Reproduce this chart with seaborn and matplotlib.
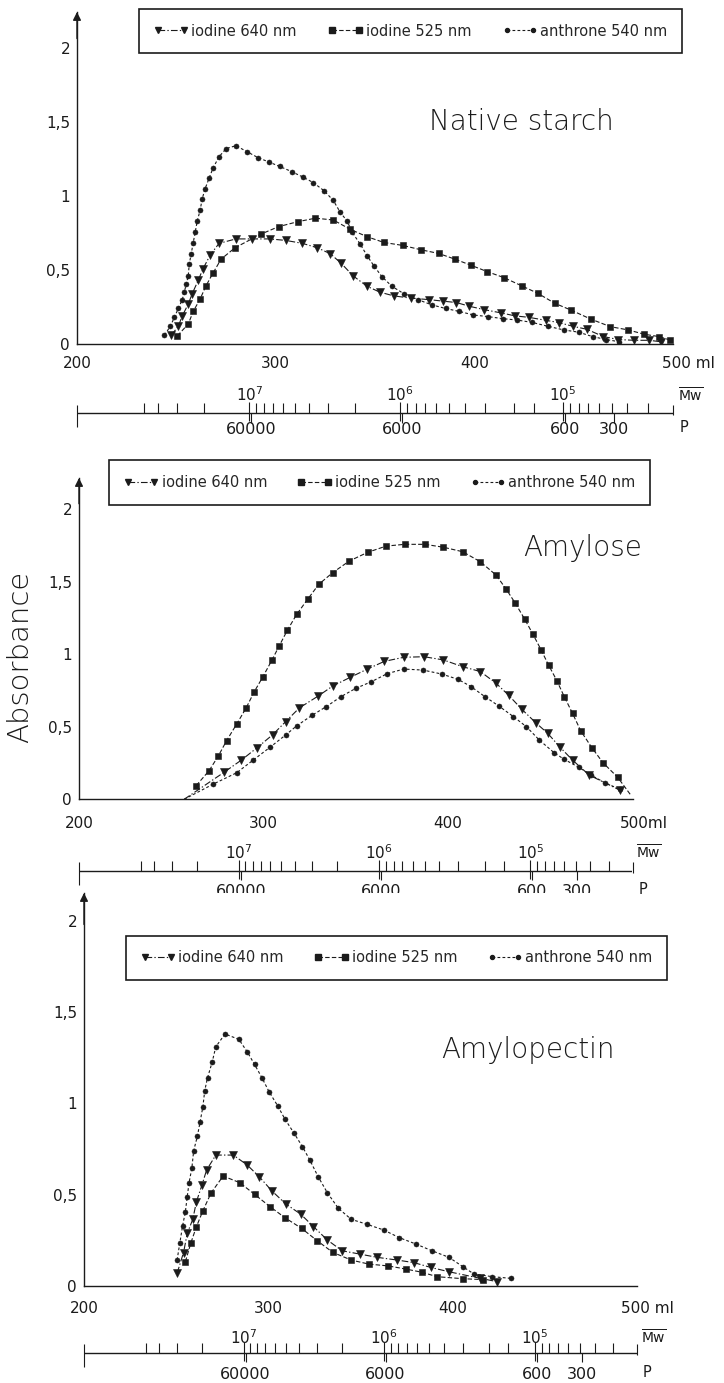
import numpy as np
import matplotlib
matplotlib.use("Agg")
import matplotlib.pyplot as plt
import matplotlib.transforms as mtransforms
from matplotlib.lines import Line2D
import seaborn as sns

# ---------------- Native starch ----------------
ns_i640_ml = [247.5, 251, 253, 256, 258, 261, 263.5, 267, 271.5, 280, 288, 297, 305, 313.5,
              321, 327.5, 333, 339, 346, 352.5, 359.5, 368, 377, 384, 391, 397.5, 405, 413.5,
              420.5, 427.5, 436, 442.5, 449.5, 456.5, 465, 472.5, 480.5, 488, 494]
ns_i640_y = [0.06, 0.12, 0.19, 0.27, 0.34, 0.43, 0.51, 0.60, 0.68, 0.71, 0.71, 0.71, 0.70, 0.68,
             0.65, 0.61, 0.545, 0.46, 0.39, 0.35, 0.325, 0.31, 0.30, 0.29, 0.28, 0.255, 0.232, 0.21,
             0.19, 0.18, 0.16, 0.145, 0.12, 0.10, 0.05, 0.03, 0.025, 0.025, 0.015]
ns_i525_ml = [250.5, 256, 258.5, 262, 265, 268.5, 272.5, 279.5, 292.5, 301.5, 311, 320, 329,
              337.5, 346, 354.5, 364, 373, 382, 390.5, 398.5, 406.5, 415, 424, 432, 440.5,
              448.5, 458.5, 468.5, 477.5, 485.5, 493, 498.5]
ns_i525_y = [0.055, 0.135, 0.22, 0.305, 0.395, 0.48, 0.573, 0.65, 0.742, 0.793, 0.826, 0.85, 0.838,
             0.775, 0.725, 0.686, 0.666, 0.637, 0.612, 0.572, 0.531, 0.489, 0.448, 0.392, 0.342, 0.275,
             0.23, 0.169, 0.117, 0.095, 0.066, 0.05, 0.027]
ns_anth_ml = [244, 247, 249, 251, 253, 254, 255, 256, 256.5, 257.5, 258.5, 259.5, 260.5, 262, 263,
              264.5, 266.5, 268.5, 271.5, 275, 280, 285.5, 291, 296.5, 302, 308, 314, 319, 324.5,
              329, 332.5, 336, 338.5, 342.5, 346, 349.5, 353.5, 358.5, 364.5, 371.5, 378.5, 385.5,
              392.5, 399.5, 407, 414.5, 421.5, 429, 437, 445, 452.5, 459.5, 466.5, 473]
ns_anth_y = [0.06, 0.12, 0.18, 0.24, 0.30, 0.35, 0.405, 0.46, 0.54, 0.61, 0.685, 0.755, 0.83, 0.905,
             0.98, 1.05, 1.12, 1.19, 1.265, 1.32, 1.34, 1.30, 1.26, 1.23, 1.20, 1.165, 1.126, 1.09,
             1.034, 0.97, 0.89, 0.83, 0.755, 0.676, 0.597, 0.527, 0.455, 0.39, 0.34, 0.30, 0.265,
             0.24, 0.22, 0.196, 0.185, 0.171, 0.162, 0.146, 0.12, 0.095, 0.08, 0.05, 0.03, 0.015]

# ---------------- Amylose ----------------
am_i640_ml = [257, 278.5, 288, 296.5, 305, 312, 319.5, 329.5, 337.5, 347, 356, 365.5, 376, 387,
              397.5, 408, 417.5, 426, 433, 440, 447.5, 454, 460.5, 467.5, 476.5, 493]
am_i640_y = [0, 0.185, 0.27, 0.355, 0.445, 0.535, 0.63, 0.71, 0.78, 0.84, 0.895, 0.95, 0.978, 0.982,
             0.96, 0.913, 0.88, 0.80, 0.715, 0.62, 0.528, 0.455, 0.362, 0.27, 0.167, 0.064]
am_i525_ml = [263.5, 270.5, 275.5, 280, 285.5, 290.5, 295, 299.5, 304.5, 308.5, 313, 318, 324, 330,
              337.5, 346.5, 356.5, 366.5, 376.5, 387.5, 397.5, 408, 417.5, 426, 431.5, 436.5, 441.5,
              446, 450.5, 454.5, 459, 463, 467.5, 472, 478, 484, 492, 499]
am_i525_y = [0.094, 0.197, 0.298, 0.404, 0.519, 0.627, 0.741, 0.84, 0.957, 1.056, 1.166, 1.274, 1.379,
             1.481, 1.561, 1.641, 1.701, 1.744, 1.756, 1.756, 1.736, 1.705, 1.636, 1.545, 1.448, 1.35,
             1.242, 1.138, 1.028, 0.925, 0.817, 0.707, 0.592, 0.47, 0.355, 0.252, 0.151, 0.03]
am_anth_ml = [257, 272.5, 285.5, 294.5, 303.5, 312, 318, 326.5, 334, 342, 350, 358.5, 367, 376,
              386.5, 396.5, 405.5, 412.5, 420, 427.5, 435.5, 442.5, 449.5, 457.5, 463, 471, 477.5,
              485, 493]
am_anth_y = [0, 0.103, 0.183, 0.271, 0.358, 0.443, 0.506, 0.58, 0.638, 0.707, 0.764, 0.81, 0.865,
             0.897, 0.89, 0.863, 0.826, 0.776, 0.707, 0.643, 0.569, 0.5, 0.408, 0.321, 0.275, 0.22,
             0.167, 0.114, 0.07]

# ---------------- Amylopectin ----------------
ap_i640_ml = [250.5, 254, 256, 259, 261, 264, 266.5, 271.5, 281, 288.5, 295, 302, 309.5, 317.5,
              324.5, 332, 340, 349.5, 359, 370, 379, 388, 398, 415, 424]
ap_i640_y = [0.07, 0.183, 0.288, 0.365, 0.462, 0.553, 0.635, 0.717, 0.717, 0.663, 0.599, 0.52, 0.449,
             0.394, 0.325, 0.252, 0.193, 0.175, 0.157, 0.142, 0.128, 0.102, 0.078, 0.042, 0.024]
ap_i525_ml = [255, 258, 261, 264.5, 269, 275.5, 284.5, 292.5, 301, 309, 318, 326.5, 335, 345, 354.5,
              365, 374.5, 383.5, 391.5, 405.5, 416.5]
ap_i525_y = [0.133, 0.237, 0.325, 0.412, 0.511, 0.602, 0.566, 0.502, 0.434, 0.374, 0.316, 0.248,
             0.184, 0.142, 0.12, 0.11, 0.093, 0.075, 0.051, 0.04, 0.035]
ap_anth_ml = [250.5, 252, 253.5, 255, 256, 257, 258.5, 259.5, 261.5, 263, 264.5, 265.5, 267, 269.5,
              271.5, 276.5, 284, 288.5, 292.5, 296.5, 300.5, 305, 309, 314, 318.5, 322.5, 327, 332,
              338, 345, 353.5, 362.5, 371, 380, 389, 398, 405.5, 411.5, 421.5, 431.5]
ap_anth_y = [0.142, 0.237, 0.33, 0.407, 0.489, 0.566, 0.645, 0.741, 0.82, 0.9, 0.982, 1.07, 1.14,
             1.225, 1.31, 1.38, 1.351, 1.283, 1.214, 1.141, 1.062, 0.988, 0.914, 0.836, 0.763, 0.69,
             0.599, 0.511, 0.425, 0.365, 0.338, 0.307, 0.265, 0.23, 0.192, 0.157, 0.106, 0.066,
             0.051, 0.042]

SERIES = ["iodine 640 nm", "iodine 525 nm", "anthrone 540 nm"]

# calibration of elution volume against log Mw (lower scale)
cal_log_mw = [8.14, 7.0, 6.0, 5.0, 4.32]
cal_ml = [200.0, 286.7, 362.6, 444.6, 500.0]
mw_major = [1e7, 1e6, 1e5]
mw_minor = [5e7, 4e7, 3e7, 2e7, 9e6, 8e6, 7e6, 6e6, 5e6, 4e6, 3e6, 2e6,
            9e5, 8e5, 7e5, 6e5, 5e5, 4e5, 3e5, 2e5, 1.5e5, 9e4, 8e4, 7e4, 6e4, 5e4, 4e4, 3e4]
p_marks = [60000, 6000, 600, 300]
AGU_MASS = 162  # P = Mw / 162

W, H = 724, 1383
INK = "#1b1b1b"

STYLE = {
    "iodine 640 nm": dict(marker="v", ms=5.5, ls=(0, (6, 2, 1.2, 2))),
    "iodine 525 nm": dict(marker="s", ms=4.8, ls=(0, (4, 2))),
    "anthrone 540 nm": dict(marker="o", ms=3.6, ls=(0, (2.5, 2))),
}

panels = [
    dict(title="Native starch", title_xy=(377, 1.5),
         data=[(ns_i640_ml, ns_i640_y, None), (ns_i525_ml, ns_i525_y, None), (ns_anth_ml, ns_anth_y, None)],
         x0=77, x1=673, zero=344, top=12, unit=148, scale=413, mw_dy=18, p_dy=17,
         legend=(139, 682, 7, 55), xpad=9, ml_label="500 ml", ml_dx=15),
    dict(title="Amylose", title_xy=(441, 1.73),
         data=[(am_i640_ml, am_i640_y, slice(1, None)), (am_i525_ml, am_i525_y, slice(0, -1)),
               (am_anth_ml, am_anth_y, slice(1, None))],
         x0=79, x1=632.5, zero=799.3, top=478, unit=145.2, scale=870.7, mw_dy=18, p_dy=21,
         legend=(109, 650, 460, 505), xpad=12, ml_label="500ml", ml_dx=11),
    dict(title="Amylopectin", title_xy=(394, 1.29),
         data=[(ap_i640_ml, ap_i640_y, None), (ap_i525_ml, ap_i525_y, None), (ap_anth_ml, ap_anth_y, None)],
         x0=84, x1=637, zero=1286, top=893, unit=182.6, scale=1352.7, mw_dy=15, p_dy=22,
         legend=(126, 667, 933, 983), xpad=11, ml_label="500 ml", ml_dx=10),
]


def mw_to_ml(mw):
    lg = np.log10(np.asarray(mw, dtype=float))
    return np.interp(-lg, -np.asarray(cal_log_mw), cal_ml)


def rect(x0, x1, top, bottom):
    return [x0 / W, 1 - bottom / H, (x1 - x0) / W, (bottom - top) / H]


def draw_scale(fig, p):
    # 24 px per unit in y, line at 0
    sc = fig.add_axes(rect(p["x0"], p["x1"], p["scale"] - 24, p["scale"] + 24))
    sc.set_xlim(200, 500)
    sc.set_ylim(-1, 1)
    sc.axis("off")
    sc.axhline(0, color=INK, lw=1.0)
    kw = dict(color=INK, lw=0.8, clip_on=False)
    sc.vlines(mw_to_ml(mw_minor), 0, 0.42, **kw)
    sc.vlines(mw_to_ml(mw_major), -0.35, 0.45, **kw)
    p_pos = mw_to_ml(np.array(p_marks) * AGU_MASS)
    sc.vlines(p_pos, -0.4, 0, **kw)
    sc.vlines(sc.get_xlim(), [-0.6, -0.1], 0.35, **kw)
    y_mw = p["mw_dy"] / 24
    y_p = -p["p_dy"] / 24
    for mw in mw_major:
        sc.text(mw_to_ml(mw), y_mw, f"$10^{{{int(round(np.log10(mw)))}}}$",
                ha="center", va="center", fontsize=11, color=INK)
    for val, x in zip(p_marks, p_pos):
        sc.text(x, y_p, f"{val}", ha="center", va="center", fontsize=11.5, color=INK)
    sc.text(509, y_mw, r"$\overline{\mathrm{Mw}}$", ha="center", va="center", fontsize=10, color=INK)
    sc.text(505.5, y_p + 0.1, "P", ha="center", va="center", fontsize=10.5, color=INK)


def draw_panel(fig, p):
    ytop = (p["zero"] - p["top"]) / p["unit"]
    ax = fig.add_axes(rect(p["x0"], p["x1"], p["top"], p["zero"]))
    for name, (xs, ys, every) in zip(SERIES, p["data"]):
        st = STYLE[name]
        sns.lineplot(x=xs, y=ys, ax=ax, estimator=None, sort=False, legend=False,
                     color=INK, linewidth=0.8, linestyle=st["ls"],
                     marker=st["marker"], markersize=st["ms"], markevery=every,
                     markerfacecolor=INK, markeredgecolor=INK, markeredgewidth=0.4)
    ax.set_xlim(200, 500)
    ax.set_ylim(0, ytop)
    ax.set_xlabel("")
    ax.set_ylabel("")
    sns.despine(ax=ax)
    for side in ["left", "bottom"]:
        ax.spines[side].set_color(INK)
        ax.spines[side].set_linewidth(1.0)
    ax.set_xticks([200, 300, 400, 500])
    ax.set_xticklabels(["200", "300", "400", p["ml_label"]])
    ax.set_yticks([0, 0.5, 1, 1.5, 2])
    ax.set_yticklabels(["0", "0,5", "1", "1,5", "2"])
    ax.tick_params(direction="in", length=3.5, width=0.8, colors=INK, labelsize=11)
    ax.tick_params(axis="x", pad=p["xpad"])
    ax.tick_params(axis="y", pad=5)
    last = ax.get_xticklabels()[-1]
    last.set_transform(last.get_transform()
                       + mtransforms.ScaledTranslation(p["ml_dx"] / 100, 0, fig.dpi_scale_trans))
    ax.annotate("", xy=(0, 1), xycoords="axes fraction", xytext=(0, 0.92),
                arrowprops=dict(arrowstyle="-|>", color=INK, lw=1.0, mutation_scale=12,
                                shrinkA=0, shrinkB=0))
    ax.text(*p["title_xy"], p["title"], fontsize=20, fontweight="light",
            ha="left", va="center", color=INK)

    handles = [Line2D([], [], color=INK, lw=0.8, linestyle=STYLE[n]["ls"], marker=STYLE[n]["marker"],
                      markersize=STYLE[n]["ms"] * 0.8, markerfacecolor=INK, markeredgecolor=INK)
               for n in SERIES]
    lx0, lx1, ly0, ly1 = p["legend"]
    leg = ax.legend(handles, SERIES, ncol=3, mode="expand", loc="center",
                    bbox_to_anchor=(lx0 / W, 1 - ly1 / H, (lx1 - lx0) / W, (ly1 - ly0) / H),
                    bbox_transform=fig.transFigure, frameon=True, fancybox=False,
                    edgecolor=INK, framealpha=1, borderpad=1.0, borderaxespad=0,
                    handlelength=2.4, handletextpad=0.2, columnspacing=1.0,
                    numpoints=2, fontsize=10.5)
    leg.get_frame().set_linewidth(1.2)
    draw_scale(fig, p)
    return ax


sns.set_style("white")
plt.rcParams["font.family"] = ["DejaVu Sans"]
plt.rcParams["mathtext.fontset"] = "dejavusans"

fig = plt.figure(figsize=(W / 100, H / 100), dpi=100)
for p in panels:
    draw_panel(fig, p)

fig.text(20 / W, 1 - 657 / H, "Absorbance", rotation=90, fontsize=21, fontweight="light",
         ha="center", va="center", color=INK)

fig.savefig("out.png", dpi=100)
